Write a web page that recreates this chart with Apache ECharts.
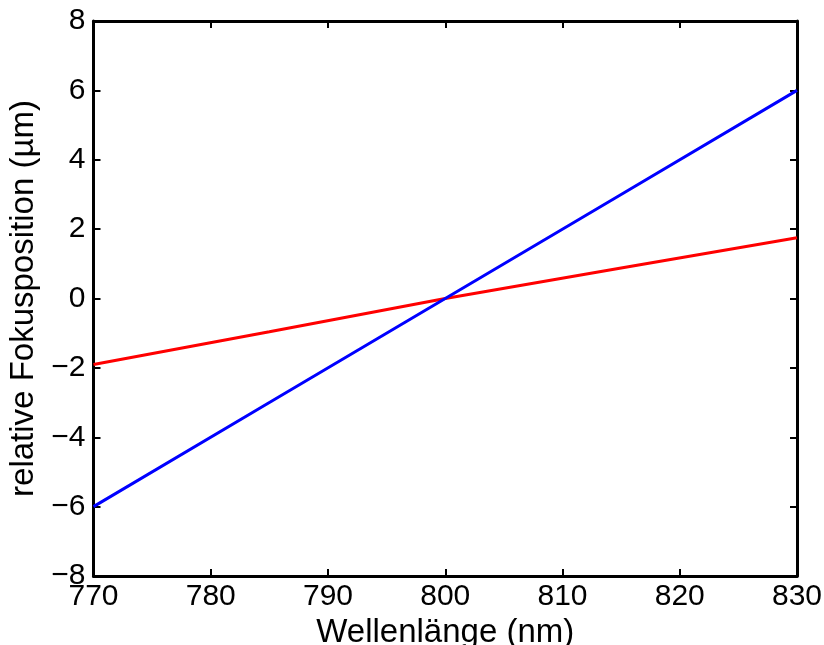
<!DOCTYPE html>
<html>
<head>
<meta charset="utf-8">
<script src="https://cdn.jsdelivr.net/npm/echarts@6/dist/echarts.min.js"></script>
<style>
  html, body { margin: 0; padding: 0; background: #fff; }
  #chart { width: 824px; height: 645px; }
</style>
</head>
<body>
<div id="chart"></div>
<script>
// Wavelength samples (nm) and relative focus position (µm) for the two curves
const wavelength = [770, 785, 800, 815, 830];
const focusRed = [-1.9, -0.96, 0, 0.88, 1.75];
const focusBlue = [-6, -3, 0, 3, 6];

const xTicks = [770, 780, 790, 800, 810, 820, 830];
const yTicks = [-8, -6, -4, -2, 0, 2, 4, 6, 8];

const font = 'Liberation Sans, Arial, Helvetica, sans-serif';
const minus = v => String(v).replace('-', '\u2212');

const axisLine = { show: true, onZero: false, lineStyle: { color: '#000', width: 3 } };
const axisTick = { show: true, inside: true, length: 7, lineStyle: { color: '#000', width: 2 } };

const chart = echarts.init(document.getElementById('chart'));
chart.setOption({
  animation: false,
  grid: { left: 93.5, right: 27, top: 21, bottom: 69, containLabel: false, outerBoundsMode: 'none' },
  xAxis: [
    {
      type: 'value', min: xTicks[0], max: xTicks[xTicks.length - 1], interval: 10,
      position: 'bottom',
      name: 'Wellenlänge (nm)', nameLocation: 'middle', nameGap: 34,
      nameTextStyle: { color: '#000', fontSize: 33, fontFamily: font },
      axisLine, axisTick,
      axisLabel: { color: '#000', fontSize: 30, fontFamily: font, margin: 6, formatter: minus },
      splitLine: { show: false }
    },
    {
      type: 'value', min: xTicks[0], max: xTicks[xTicks.length - 1], interval: 10,
      position: 'top', axisLine, axisTick, axisLabel: { show: false }, splitLine: { show: false }
    }
  ],
  yAxis: [
    {
      type: 'value', min: yTicks[0], max: yTicks[yTicks.length - 1], interval: 2,
      position: 'left',
      name: 'relative Fokusposition (µm)', nameLocation: 'middle', nameGap: 45,
      nameTextStyle: { color: '#000', fontSize: 33, fontFamily: font },
      axisLine, axisTick,
      axisLabel: { color: '#000', fontSize: 30, fontFamily: font, margin: 8, formatter: minus },
      splitLine: { show: false }
    },
    {
      type: 'value', min: yTicks[0], max: yTicks[yTicks.length - 1], interval: 2,
      position: 'right', axisLine, axisTick, axisLabel: { show: false }, splitLine: { show: false }
    }
  ],
  series: [
    {
      type: 'line', showSymbol: false, symbol: 'none',
      data: wavelength.map((w, i) => [w, focusRed[i]]),
      lineStyle: { color: '#ff0000', width: 3 }, z: 3
    },
    {
      type: 'line', showSymbol: false, symbol: 'none',
      data: wavelength.map((w, i) => [w, focusBlue[i]]),
      lineStyle: { color: '#0000ff', width: 3 }, z: 4
    }
  ]
});
</script>
</body>
</html>
